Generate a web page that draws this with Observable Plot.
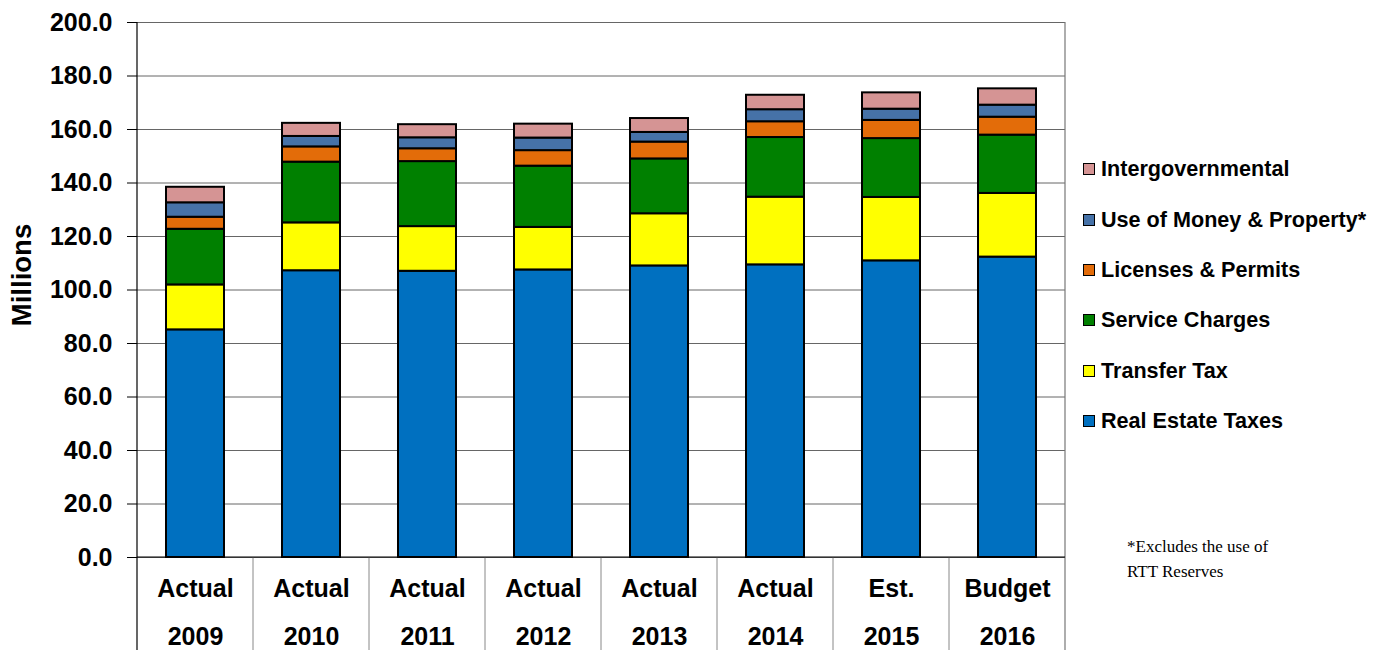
<!DOCTYPE html>
<html>
<head>
<meta charset="utf-8">
<script src="https://cdn.jsdelivr.net/npm/d3@7"></script>
<script src="https://cdn.jsdelivr.net/npm/@observablehq/plot@0.6"></script>
<style>
  html, body { margin: 0; padding: 0; background: #fff; }
  #wrap { position: relative; width: 1382px; height: 650px; overflow: hidden; font-family: "Liberation Sans", Arial, sans-serif; }
  #legend .row { position: absolute; left: 1083px; height: 24px; display: flex; align-items: center; font-weight: bold; font-size: 21.6px; color: #000; white-space: nowrap; }
  #legend .sw { width: 10px; height: 10px; border: 1.5px solid #000; margin-right: 6px; flex: none; }
  #note { position: absolute; left: 1127px; top: 534px; font-family: "Liberation Serif", "Times New Roman", serif; font-size: 17px; line-height: 25px; color: #000; }
</style>
</head>
<body>
<div id="wrap">
  <div id="chart"></div>
  <div id="legend"></div>
  <div id="note">*Excludes the use of<br>RTT Reserves</div>
</div>
<script>
// ---- data ----
const periodLabels = ["Actual", "Actual", "Actual", "Actual", "Actual", "Actual", "Est.", "Budget"];
const years = ["2009", "2010", "2011", "2012", "2013", "2014", "2015", "2016"];
const seriesNames = ["Real Estate Taxes", "Transfer Tax", "Service Charges", "Licenses & Permits", "Use of Money & Property*", "Intergovernmental"];
const seriesColors = ["#0070C0", "#FFFF00", "#008000", "#E36C09", "#4672A8", "#D59494"];
const realEstateTaxes   = [85.1, 107.2, 107.0, 107.5, 109.0, 109.4, 110.9, 112.3];
const transferTax       = [16.8, 17.9, 16.7, 15.9, 19.5, 25.3, 23.7, 23.8];
const serviceCharges    = [20.8, 22.7, 24.3, 22.9, 20.5, 22.3, 22.0, 21.8];
const licensesPermits   = [4.5, 5.7, 4.8, 5.8, 6.3, 5.9, 6.8, 6.7];
const useOfMoney        = [5.4, 3.9, 4.1, 4.7, 3.6, 4.5, 4.2, 4.5];
const intergovernmental = [5.8, 4.9, 4.9, 5.2, 5.2, 5.4, 6.1, 6.1];
const yTicks = [0, 20, 40, 60, 80, 100, 120, 140, 160, 180, 200];

const seriesValues = [realEstateTaxes, transferTax, serviceCharges, licensesPermits, useOfMoney, intergovernmental];
const categories = years.map((y, i) => periodLabels[i] + "\n" + y);
const rows = [];
categories.forEach((c, i) => {
  seriesNames.forEach((s, j) => rows.push({cat: c, series: s, value: seriesValues[j][i]}));
});

const chart = Plot.plot({
  width: 1382,
  height: 650,
  marginLeft: 137,
  marginRight: 317,
  marginTop: 22,
  marginBottom: 93,
  style: {fontFamily: "'Liberation Sans', Arial, sans-serif", background: "transparent", color: "#000", overflow: "visible"},
  x: {domain: categories, paddingInner: 0.5, paddingOuter: 0.25, axis: null},
  y: {domain: [0, 200], axis: null},
  color: {domain: seriesNames, range: seriesColors},
  marks: [
    Plot.gridY(yTicks, {stroke: "#666", strokeOpacity: 1, strokeWidth: 1}),
    Plot.barY(rows, {x: "cat", y: "value", fill: "series", stroke: "#000", strokeWidth: 2}),
    Plot.axisY(yTicks, {tickSize: 10, tickPadding: 15, tickFormat: d => d.toFixed(1), fontSize: 25, fontWeight: "bold", label: null, stroke: "#000"}),
    Plot.axisX({tickSize: 0, tickPadding: 5, fontSize: 25, fontWeight: "bold", lineHeight: 1.92, label: null}),
    Plot.text(["Millions"], {frameAnchor: "left", textAnchor: "middle", lineAnchor: "middle", dx: -115, dy: -15, rotate: -90, fontSize: 27.5, fontWeight: "bold", fill: "#000"})
  ]
});
document.getElementById("chart").appendChild(chart);

// structural lines derived from the plot's scales
const xs = chart.scale("x"), ys = chart.scale("y");
const svg = d3.select(chart);
const gap = (xs.step - xs.bandwidth) / 2;
const left = xs.range[0], right = xs.range[1];
const yTop = ys.apply(200), yBase = ys.apply(0), H = 650;
const g = svg.append("g");
categories.slice(1).forEach(c => {
  const bx = xs.apply(c) - gap;
  g.append("line").attr("x1", bx).attr("x2", bx).attr("y1", yBase).attr("y2", H).attr("stroke", "#888").attr("stroke-width", 1);
});
g.append("line").attr("x1", right).attr("x2", right).attr("y1", yTop).attr("y2", H).attr("stroke", "#777").attr("stroke-width", 1.2);
g.append("line").attr("x1", left).attr("x2", right).attr("y1", yBase).attr("y2", yBase).attr("stroke", "#000").attr("stroke-width", 1.2);
g.append("line").attr("x1", left).attr("x2", left).attr("y1", yTop).attr("y2", H).attr("stroke", "#000").attr("stroke-width", 1.2);

// legend (top to bottom = reverse of stack order)
const legendCenters = [169, 220, 270, 320, 371, 421];
const legend = document.getElementById("legend");
seriesNames.slice().reverse().forEach((s, i) => {
  const row = document.createElement("div");
  row.className = "row";
  row.style.top = (legendCenters[i] - 12) + "px";
  const sw = document.createElement("span");
  sw.className = "sw";
  sw.style.background = seriesColors[seriesNames.indexOf(s)];
  row.appendChild(sw);
  row.appendChild(document.createTextNode(s));
  legend.appendChild(row);
});
document.getElementById("chart").style.position = "absolute";
document.getElementById("chart").style.left = "0";
document.getElementById("chart").style.top = "0";
</script>
</body>
</html>
